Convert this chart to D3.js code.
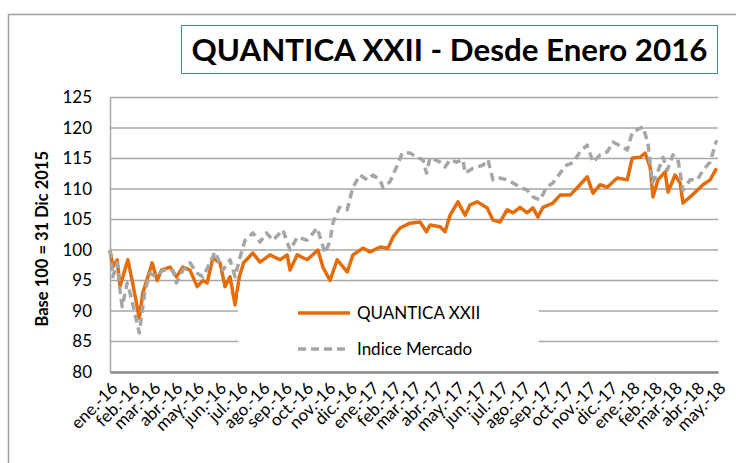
<!DOCTYPE html>
<html>
<head>
<meta charset="utf-8">
<script src="https://cdn.jsdelivr.net/npm/d3@7"></script>
<style>
  body { margin: 0; background: #fff; }
  svg { display: block; font-family: Lato, "Open Sans", sans-serif; }
</style>
</head>
<body>
<div id="chart"></div>
<script>
// valores (base 100 = 31 dic 2015)
var quanticaDates = ["2016-01-01","2016-01-05","2016-01-11","2016-01-15","2016-01-19","2016-01-26",
  "2016-02-01","2016-02-08","2016-02-11","2016-02-16","2016-02-26","2016-02-29",
  "2016-03-07","2016-03-13","2016-03-25","2016-04-03","2016-04-12","2016-04-22",
  "2016-05-02","2016-05-10","2016-05-16","2016-05-24","2016-06-03","2016-06-10","2016-06-17","2016-06-24",
  "2016-06-30","2016-07-06","2016-07-19","2016-07-29","2016-08-12","2016-08-26",
  "2016-09-05","2016-09-09","2016-09-19","2016-10-03","2016-10-18","2016-10-25",
  "2016-11-04","2016-11-14","2016-11-28","2016-12-06","2016-12-20","2016-12-30",
  "2017-01-13","2017-01-24","2017-01-31","2017-02-10","2017-02-24",
  "2017-03-10","2017-03-19","2017-03-24","2017-04-07","2017-04-14","2017-04-21",
  "2017-05-02","2017-05-12","2017-05-19","2017-05-29","2017-06-12","2017-06-20","2017-06-30",
  "2017-07-10","2017-07-18","2017-07-28","2017-08-07","2017-08-15","2017-08-22","2017-08-29",
  "2017-09-12","2017-09-22","2017-10-06","2017-10-16","2017-10-30",
  "2017-11-07","2017-11-17","2017-11-27","2017-12-11","2017-12-25",
  "2018-01-01","2018-01-12","2018-01-19","2018-01-26","2018-01-30",
  "2018-02-06","2018-02-16","2018-02-20","2018-03-02","2018-03-09","2018-03-13","2018-03-23",
  "2018-04-02","2018-04-10","2018-04-20","2018-04-29"];
var quanticaValues = [100,97.2,98.4,94,95.6,98.4,
  95,90.7,88.8,93,96.7,97.9,
  95,96.7,97.2,95.6,97.2,96.7,
  94,95,94.6,98.7,97.9,94,95.6,91,
  95.6,97.9,99.5,98,99.2,98.4,
  99.2,96.7,99.2,98.4,100,97.2,
  95,98.4,96.4,99.2,100.3,99.7,
  100.5,100.3,102.1,103.6,104.4,
  104.6,103,104.1,103.8,103,105.7,
  107.9,105.7,107.4,107.9,106.9,104.9,104.6,
  106.6,106.1,107,106.1,106.9,105.4,107,
  107.7,109,109,110.2,112,
  109.3,110.7,110.3,111.8,111.5,
  115.1,115.2,115.9,113.6,108.7,
  111.5,112.8,109.5,112.3,111,107.7,108.7,
  109.8,110.7,111.5,113.4];

var mercadoDates = ["2016-01-01","2016-01-05","2016-01-11","2016-01-15","2016-01-18","2016-01-25","2016-01-29",
  "2016-02-08","2016-02-11","2016-02-19","2016-02-26","2016-03-06","2016-03-15","2016-03-29",
  "2016-04-03","2016-04-12","2016-04-22","2016-05-02","2016-05-10","2016-05-20","2016-05-27",
  "2016-06-07","2016-06-17","2016-06-24","2016-06-30","2016-07-08","2016-07-19","2016-07-29",
  "2016-08-07","2016-08-16","2016-08-30","2016-09-09","2016-09-19",
  "2016-10-03","2016-10-17","2016-10-28","2016-11-04","2016-11-08","2016-11-17","2016-11-28",
  "2016-12-06","2016-12-16","2016-12-26",
  "2017-01-03","2017-01-13","2017-01-17","2017-01-27","2017-02-05","2017-02-13","2017-02-24",
  "2017-03-05","2017-03-14","2017-03-19","2017-03-24","2017-04-07","2017-04-14","2017-04-21","2017-04-30",
  "2017-05-09","2017-05-12","2017-05-23","2017-06-06","2017-06-13","2017-06-20","2017-06-30",
  "2017-07-10","2017-07-18","2017-07-28","2017-08-07","2017-08-15","2017-08-25",
  "2017-09-03","2017-09-12","2017-09-22","2017-10-01","2017-10-10","2017-10-20","2017-10-30",
  "2017-11-07","2017-11-17","2017-11-27","2017-12-05","2017-12-18","2017-12-25",
  "2018-01-01","2018-01-08","2018-01-16","2018-01-23","2018-01-29",
  "2018-02-05","2018-02-13","2018-02-19","2018-02-27","2018-03-06","2018-03-13","2018-03-23",
  "2018-04-02","2018-04-10","2018-04-20","2018-04-29"];
var mercadoValues = [100,95.6,97.9,93.4,90.7,94.6,93,
  88,86.4,93.4,96.2,95.6,96.7,96.7,
  94.6,96.7,97.9,96.2,95.6,97.9,99.7,
  96.7,98.4,95.6,98.4,101.6,102.8,101.3,
  102.8,101.6,103.3,100,102.1,
  101.6,103.6,99.5,101.5,104.4,107,106.6,
  110.3,112.3,111.5,
  112.3,111.5,110.2,111.2,113.6,115.9,115.9,
  115.2,114.8,112.6,115.2,114.4,113.6,114.8,114.4,
  114.8,112.6,113.4,113.9,114.8,111.5,111.8,
  111.5,111,110.3,109.8,108.7,108.2,
  110.3,111,112.6,113.9,114.3,116.1,117.2,
  114.4,115.6,116.1,117.7,116.9,116.4,
  119.3,119.7,120.2,117.5,111,
  112.6,115.2,113.1,115.6,114.8,109.8,111.5,
  111.5,113.1,114.4,118];

var monthLabels = ["ene.-16","feb.-16","mar.-16","abr.-16","may.-16","jun.-16","jul.-16","ago.-16",
  "sep.-16","oct.-16","nov.-16","dic.-16","ene.-17","feb.-17","mar.-17","abr.-17","may.-17",
  "jun.-17","jul.-17","ago.-17","sep.-17","oct.-17","nov.-17","dic.-17","ene.-18","feb.-18",
  "mar.-18","abr.-18","may.-18"];
var yTicks = [80,85,90,95,100,105,110,115,120,125];
var seriesNames = ["QUANTICA XXII","Indice Mercado"];
var titleText = "QUANTICA XXII - Desde Enero 2016";
var yTitle = "Base 100 = 31 Dic 2015";

var width = 736, height = 463;
var margin = {top: 97.5, right: 18, bottom: 91, left: 110};
var orange = "#e46c0a", grey = "#a6a6a6";

var parse = d3.timeParse("%Y-%m-%d");
var quantica = quanticaDates.map(function(d, i){ return {date: parse(d), value: quanticaValues[i]}; });
var mercado = mercadoDates.map(function(d, i){ return {date: parse(d), value: mercadoValues[i]}; });

var svg = d3.select("#chart").append("svg")
    .attr("width", width)
    .attr("height", height);

// marco exterior del grafico
svg.append("path")
    .attr("d", "M8.5," + height + "V14.5H" + width)
    .attr("fill", "none")
    .attr("stroke", "#a0a0a0")
    .attr("stroke-width", 1.5);

var x = d3.scaleTime()
    .domain([new Date(2016, 0, 1), new Date(2018, 4, 1)])
    .range([margin.left, width - margin.right]);
var y = d3.scaleLinear()
    .domain([80, 125])
    .range([height - margin.bottom, margin.top]);

// lineas de division
svg.append("g")
    .selectAll("line")
    .data(yTicks.slice(1))
    .enter().append("line")
    .attr("x1", margin.left)
    .attr("x2", width - margin.right)
    .attr("y1", function(d){ return y(d); })
    .attr("y2", function(d){ return y(d); })
    .attr("stroke", "#a6a6a6")
    .attr("stroke-width", 1.5);

var yAxis = svg.append("g")
    .attr("transform", "translate(" + margin.left + ",0)")
    .call(d3.axisLeft(y).tickValues(yTicks).tickSize(0).tickPadding(18));
yAxis.select(".domain").attr("stroke", "#a6a6a6").attr("stroke-width", 1.5);
yAxis.selectAll("text")
    .attr("font-family", "Lato, sans-serif")
    .attr("font-size", 17)
    .attr("fill", "#000");

var tickDates = d3.timeMonth.range(new Date(2016, 0, 1), new Date(2018, 4, 2));
var xAxis = svg.append("g")
    .attr("transform", "translate(0," + (height - margin.bottom) + ")")
    .call(d3.axisBottom(x).tickValues(tickDates).tickSize(0)
        .tickFormat(function(d, i){ return monthLabels[i]; }));
xAxis.select(".domain").attr("stroke", "#868686").attr("stroke-width", 2.5);
xAxis.selectAll("text")
    .attr("font-family", "Lato, sans-serif")
    .attr("font-size", 17)
    .attr("fill", "#000")
    .attr("text-anchor", "end")
    .attr("dy", "0.35em")
    .attr("transform", "translate(2,11) rotate(-45)");

svg.append("text")
    .attr("transform", "translate(48," + ((margin.top + height - margin.bottom) / 2 + 4) + ") rotate(-90)")
    .attr("text-anchor", "middle")
    .attr("font-family", "Lato, sans-serif")
    .attr("font-weight", "bold")
    .attr("font-size", 16.5)
    .text(yTitle);

var line = d3.line()
    .x(function(d){ return x(d.date); })
    .y(function(d){ return y(d.value); });

svg.append("path")
    .datum(quantica)
    .attr("d", line)
    .attr("fill", "none")
    .attr("stroke", orange)
    .attr("stroke-width", 3.5)
    .attr("stroke-linejoin", "round");

svg.append("path")
    .datum(mercado)
    .attr("d", line)
    .attr("fill", "none")
    .attr("stroke", grey)
    .attr("stroke-width", 3.5)
    .attr("stroke-dasharray", "8,5")
    .attr("stroke-linejoin", "round");

// leyenda
var legend = svg.append("g");
legend.append("rect")
    .attr("x", 238).attr("y", 292)
    .attr("width", 301).attr("height", 74)
    .attr("fill", "#fff");
var entries = legend.selectAll("g.entry")
    .data(seriesNames)
    .enter().append("g")
    .attr("class", "entry")
    .attr("transform", function(d, i){ return "translate(298," + (313 + i * 36) + ")"; });
entries.append("line")
    .attr("x1", 0).attr("x2", 52)
    .attr("stroke", function(d, i){ return i === 0 ? orange : grey; })
    .attr("stroke-width", 3.5)
    .attr("stroke-dasharray", function(d, i){ return i === 0 ? null : "8,5"; });
entries.append("text")
    .attr("x", 59)
    .attr("dy", "0.35em")
    .attr("font-family", "Lato, sans-serif")
    .attr("font-size", 17)
    .text(function(d){ return d; });

// titulo
svg.append("rect")
    .attr("x", 181.5).attr("y", 25.5)
    .attr("width", 536).attr("height", 48)
    .attr("fill", "#fff")
    .attr("stroke", "#4a7ebb")
    .attr("stroke-width", 1);
svg.append("text")
    .attr("x", 449.5).attr("y", 61)
    .attr("text-anchor", "middle")
    .attr("font-family", "Lato, sans-serif")
    .attr("font-weight", "bold")
    .attr("font-size", 30)
    .attr("textLength", 516)
    .attr("lengthAdjust", "spacingAndGlyphs")
    .text(titleText);
</script>
</body>
</html>
